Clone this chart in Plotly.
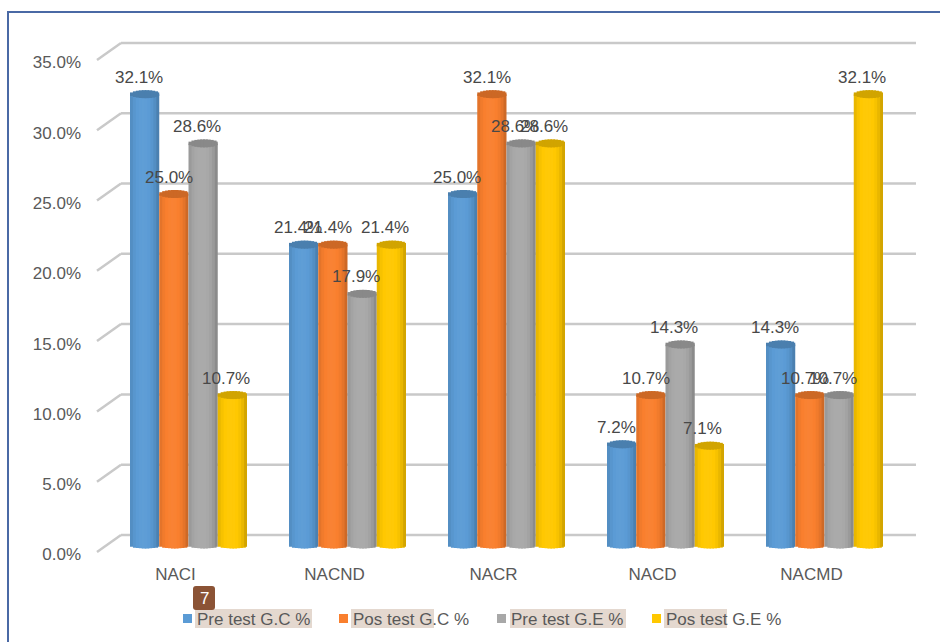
import plotly.graph_objects as go
import numpy as np

categories = ["NACI", "NACND", "NACR", "NACD", "NACMD"]
pre_gc = [32.1, 21.4, 25.0, 7.2, 14.3]
pos_gc = [25.0, 21.4, 32.1, 10.7, 10.7]
pre_ge = [28.6, 17.9, 28.6, 14.3, 10.7]
pos_ge = [10.7, 21.4, 28.6, 7.1, 32.1]
series_names = ["Pre test G.C %", "Pos test G.C %", "Pre test G.E %", "Pos test G.E %"]
series_values = [pre_gc, pos_gc, pre_ge, pos_ge]
colors = ["#5b9bd5", "#f97f2e", "#a8a8a8", "#ffc800"]
label_shift_px = [-5.5, -5.0, -6.5, -6.5]
y_ticks = [0, 5, 10, 15, 20, 25, 30, 35]

W, H = 940, 642
PX_X0, PX_X1 = 97, 916          # plot area, pixels
PX_Y0, PX_Y1 = 562, 30
PX_PER_UNIT_X = 159.0
PX_PER_UNIT_Y = 14.06
ZERO_PX = 545.5
CENTER0_PX = 188.5
BAR_PX = 29.25
STRIPS = 10


def mix(hex_color, factor):
    rgb = np.array([int(hex_color[i:i + 2], 16) for i in (1, 3, 5)], float)
    out = rgb * factor if factor <= 1 else rgb + (255 - rgb) * (factor - 1)
    return "rgb(%d,%d,%d)" % tuple(np.clip(out, 0, 255))


def shade(t):
    # t runs -1..1 across the cylinder; brightest a little left of centre
    return 0.72 + 0.31 * (1 - min(1.0, abs((t + 0.1) / 1.1)) ** 2) ** 0.6


xr = [(PX_X0 - CENTER0_PX) / PX_PER_UNIT_X, (PX_X1 - CENTER0_PX) / PX_PER_UNIT_X]
yr = [(ZERO_PX - PX_Y0) / PX_PER_UNIT_Y, (ZERO_PX - PX_Y1) / PX_PER_UNIT_Y]
unit_w = BAR_PX / PX_PER_UNIT_X
BOTTOM_E = 3.0 / PX_PER_UNIT_Y
TOP_E = 4.0 / PX_PER_UNIT_Y
strip_w = unit_w / STRIPS

fig = go.Figure()
annotations = []
for j, (name, vals, col) in enumerate(zip(series_names, series_values, colors)):
    xs, ys, bases, offs, cols, widths = [], [], [], [], [], []
    centre = (j - 1.5) * unit_w
    for part in ("body", "cap"):
        for s in range(STRIPS):
            t = -1 + (2 * s + 1) / STRIPS
            off = centre - unit_w / 2 + s * strip_w
            # each strip slightly overlaps the next, so no seams show
            w = strip_w * (1.6 if s < STRIPS - 1 else 1.0)
            arc = float(np.sqrt(1 - t * t))
            for i, v in enumerate(vals):
                xs.append(i)
                offs.append(off)
                widths.append(w)
                if part == "body":
                    bases.append(-BOTTOM_E * arc)
                    ys.append(v + BOTTOM_E * arc)
                    cols.append(mix(col, shade(t)))
                else:
                    bases.append(v - TOP_E * arc)
                    ys.append(2 * TOP_E * arc)
                    cols.append(mix(col, 0.82))
    fig.add_trace(go.Bar(
        x=xs, y=ys, base=bases, offset=offs, width=widths,
        marker=dict(color=cols, line=dict(width=0)),
        name=name, showlegend=False, hoverinfo="skip",
    ))
    for i, v in enumerate(vals):
        annotations.append(dict(
            x=i + centre + label_shift_px[j] / PX_PER_UNIT_X, y=v, xref="x", yref="y",
            text=f"{v:.1f}%", showarrow=False, yshift=17, yanchor="middle",
            font=dict(family="Liberation Sans", size=17, color="#484848"),
        ))

shapes = []
GRID = "#c9c9c9"
front = (ZERO_PX - 552) / PX_PER_UNIT_Y
back = (ZERO_PX - 535) / PX_PER_UNIT_Y
for v in y_ticks:
    shapes.append(dict(type="line", xref="paper", yref="y", layer="below",
                       x0=PX_X0 / W, x1=121 / W, y0=v + front, y1=v + back,
                       line=dict(color=GRID, width=2.5)))
    shapes.append(dict(type="line", xref="paper", yref="y", layer="below",
                       x0=121 / W, x1=PX_X1 / W, y0=v + back, y1=v + back,
                       line=dict(color=GRID, width=2.5)))


def px_rect(x0, y0, x1, y1, **kw):
    return dict(type="rect", xref="paper", yref="paper", x0=x0 / W, x1=x1 / W,
                y0=1 - y1 / H, y1=1 - y0 / H, **kw)


# frame
shapes.append(px_rect(8, 12, 960, 670, line=dict(color="#4a69a5", width=2), layer="below"))

# legend, drawn by hand so that swatch spacing and the text highlights match
legend_swatch = [183, 339, 497, 652]
legend_text = [195, 351, 509, 664]
highlight = [(195, 312), (351, 434), (510, 626), (664, 727)]
for name, col, sx, tx, (h0, h1) in zip(series_names, colors, legend_swatch, legend_text, highlight):
    shapes.append(px_rect(h0, 609, h1, 628, fillcolor="#e4d8cf", line=dict(width=0), layer="below"))
    shapes.append(px_rect(sx, 614, sx + 9, 623, fillcolor=col, line=dict(width=0), layer="below"))
    annotations.append(dict(xref="paper", yref="paper", x=tx / W, y=1 - 619 / H,
                            xanchor="left", yanchor="middle", text=name, showarrow=False,
                            font=dict(family="Liberation Sans", size=17, color="#595959")))

# comment badge
bx0, bx1, by0, by1, r = 193 / W, 215 / W, 1 - 610 / H, 1 - 586 / H, 3
rx, ry = r / W, r / H
shapes.append(dict(type="path", xref="paper", yref="paper", fillcolor="#8b5335", line=dict(width=0), layer="below",
                   path=f"M{bx0 + rx},{by0} L{bx1 - rx},{by0} Q{bx1},{by0} {bx1},{by0 + ry} "
                        f"L{bx1},{by1 - ry} Q{bx1},{by1} {bx1 - rx},{by1} L{bx0 + rx},{by1} "
                        f"Q{bx0},{by1} {bx0},{by1 - ry} L{bx0},{by0 + ry} Q{bx0},{by0} {bx0 + rx},{by0} Z"))
annotations.append(dict(xref="paper", yref="paper", x=204 / W, y=1 - 598 / H, text="7", showarrow=False,
                        xanchor="center", yanchor="middle",
                        font=dict(family="Liberation Sans", size=17, color="white")))

fig.update_layout(
    width=W, height=H, autosize=False,
    margin=dict(l=0, r=0, t=0, b=0, autoexpand=False),
    paper_bgcolor="white", plot_bgcolor="rgba(0,0,0,0)",
    barmode="overlay", showlegend=False,
    shapes=shapes, annotations=annotations,
    xaxis=dict(domain=[PX_X0 / W, PX_X1 / W], range=xr, tickmode="array",
               tickvals=list(range(len(categories))), ticktext=categories,
               showgrid=False, zeroline=False, showline=False, ticks="",
               ticklabelshift=-13, ticklabelstandoff=0,
               tickfont=dict(family="Liberation Sans", size=17, color="#595959")),
    yaxis=dict(domain=[1 - PX_Y0 / H, 1 - PX_Y1 / H], range=yr, tickmode="array",
               tickvals=y_ticks, ticktext=[f"{v:.1f}%" for v in y_ticks],
               showgrid=False, zeroline=False, showline=False, ticks="",
               ticklabelshift=9, ticklabelstandoff=15,
               tickfont=dict(family="Liberation Sans", size=17, color="#595959")),
)
fig.write_html("out.html", post_script="document.body.style.margin='0';",
               config={"displayModeBar": False})
